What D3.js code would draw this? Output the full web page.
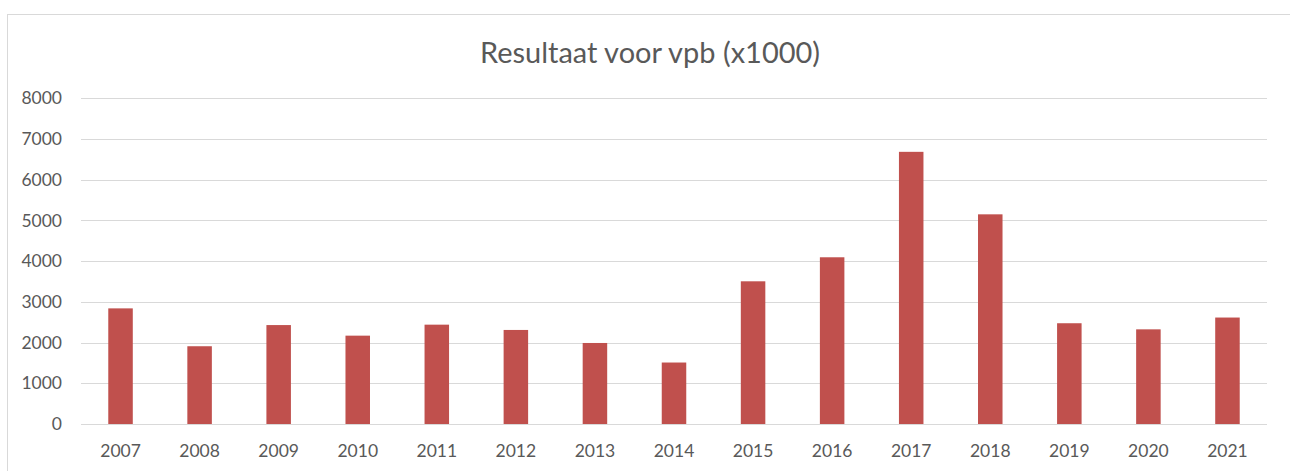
<!DOCTYPE html>
<html><head><meta charset="utf-8">
<script src="https://cdn.jsdelivr.net/npm/d3@7"></script>
<style>body{margin:0;background:#fff}svg{display:block}</style>
</head><body>
<script>
const years = ["2007","2008","2009","2010","2011","2012","2013","2014","2015","2016","2017","2018","2019","2020","2021"];
const values = [2840,1910,2430,2170,2440,2310,1990,1510,3505,4095,6685,5150,2475,2325,2615];
const yTicks = [0,1000,2000,3000,4000,5000,6000,7000,8000];
const title = "Resultaat voor vpb (x1000)";

const W = 1290, H = 471;
const svg = d3.select("body").append("svg").attr("width", W).attr("height", H);
const font = "Lato, 'Open Sans', sans-serif";

svg.append("rect").attr("x", 7.5).attr("y", 14.5).attr("width", W + 10).attr("height", H + 10)
  .attr("fill", "#fff").attr("stroke", "#d9d9d9").attr("stroke-width", 1);

const x = d3.scaleBand().domain(years).range([81, 1267]).paddingInner(0.69).paddingOuter(0.345);
const y = d3.scaleLinear().domain([0, 8000]).range([424, 98.3]);

const grid = svg.append("g");
grid.selectAll("line").data(yTicks).join("line")
  .attr("x1", 81).attr("x2", 1267)
  .attr("y1", d => Math.round(y(d)) + 0.5).attr("y2", d => Math.round(y(d)) + 0.5)
  .attr("stroke", "#d9d9d9").attr("stroke-width", 1);

const yAxis = svg.append("g").attr("transform", "translate(62,0)")
  .call(d3.axisLeft(y).tickValues(yTicks).tickSize(0).tickPadding(0).tickFormat(d3.format("d")));
yAxis.select(".domain").remove();
yAxis.selectAll("text").attr("font-family", font).attr("font-size", 17.5).attr("fill", "#595959");

svg.append("g").selectAll("rect").data(values).join("rect")
  .attr("x", (d, i) => x(years[i])).attr("width", x.bandwidth())
  .attr("y", d => y(d)).attr("height", d => y(0) - y(d))
  .attr("fill", "#c0504d");

const xAxis = svg.append("g").attr("transform", "translate(0,444.5)")
  .call(d3.axisBottom(x).tickSize(0).tickPadding(0));
xAxis.select(".domain").remove();
xAxis.selectAll("text").attr("font-family", font).attr("font-size", 17.5).attr("fill", "#595959");

const t = svg.append("text").attr("x", 650).attr("y", 63).attr("text-anchor", "middle")
  .attr("font-family", font).attr("font-weight", 400).attr("font-size", 28).attr("fill", "#595959").text(title);
t.attr("textLength", 340).attr("lengthAdjust", "spacingAndGlyphs");
</script>
</body></html>
